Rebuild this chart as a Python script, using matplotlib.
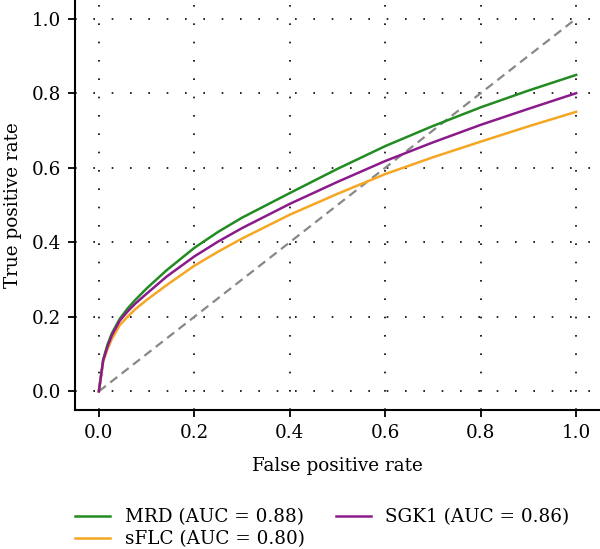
import matplotlib
matplotlib.use("Agg")
import matplotlib.pyplot as plt

plt.rcParams['font.family'] = ['DejaVu Serif']

fpr = [0.0, 0.009, 0.018, 0.027, 0.044, 0.06, 0.076, 0.1, 0.142, 0.2, 0.25, 0.3, 0.4, 0.5, 0.6, 0.7, 0.8, 0.9, 1.0]
tpr_mrd = [0.0, 0.085, 0.125, 0.155, 0.195, 0.222, 0.245, 0.276, 0.325, 0.385, 0.428, 0.466, 0.532, 0.597, 0.658, 0.712, 0.762, 0.807, 0.849]
tpr_sflc = [0.0, 0.080, 0.113, 0.140, 0.178, 0.200, 0.220, 0.245, 0.285, 0.337, 0.375, 0.410, 0.474, 0.530, 0.583, 0.628, 0.670, 0.711, 0.750]
tpr_sgk1 = [0.0, 0.083, 0.120, 0.150, 0.190, 0.214, 0.235, 0.262, 0.308, 0.362, 0.402, 0.438, 0.503, 0.562, 0.618, 0.668, 0.715, 0.758, 0.800]
labels = ["MRD (AUC = 0.88)", "sFLC (AUC = 0.80)", "SGK1 (AUC = 0.86)"]
colors = ["#228B22", "#F5A623", "#8B1A8B"]
ticks = [0.0, 0.2, 0.4, 0.6, 0.8, 1.0]

fs = 13.2

fig = plt.figure(figsize=(6.0, 5.49), dpi=100)
ax = fig.add_axes([0.125, 0.2532, 0.875, 0.7468])

for y, lab, c in zip([tpr_mrd, tpr_sflc, tpr_sgk1], labels, colors):
    ax.plot(fpr, y, color=c, lw=1.8, label=lab, zorder=3, solid_joinstyle="round")
ax.plot([0, 1], [0, 1], color="#888888", lw=1.6, ls=(0, (4, 2.5)), zorder=2)

ax.set_xlim(-0.05, 1.05)
ax.set_ylim(-0.05, 1.05)
ax.set_xticks(ticks)
ax.set_yticks(ticks)
ax.set_xticklabels([f"{t:.1f}" for t in ticks])
ax.set_yticklabels([f"{t:.1f}" for t in ticks])
ax.grid(True, color="black", ls=(0, (1, 10)), lw=1.2)
for s in ["top", "right"]:
    ax.spines[s].set_visible(False)
for s in ["left", "bottom"]:
    ax.spines[s].set_linewidth(1.5)
ax.tick_params(direction="out", length=5, width=1.3, labelsize=fs, pad=5)
ax.set_xlabel("False positive rate", fontsize=fs, labelpad=11)
ax.set_ylabel("True positive rate", fontsize=fs, labelpad=7)

fig.legend(loc="upper left", bbox_to_anchor=(0.098, 0.104), ncol=2, frameon=False,
           fontsize=fs, handlelength=1.9, handletextpad=0.8, columnspacing=1.7,
           labelspacing=0.2)

fig.savefig("out.png", dpi=100)
